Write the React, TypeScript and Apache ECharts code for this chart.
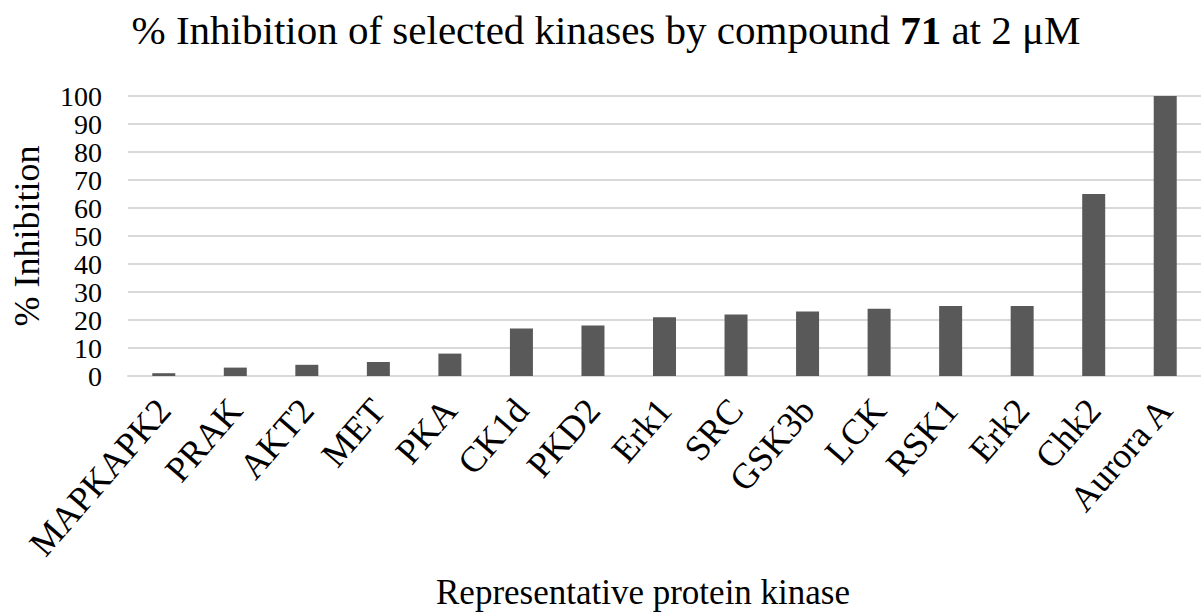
import React, { useEffect, useRef } from "react";
import * as echarts from "echarts";

const kinases = ["MAPKAPK2", "PRAK", "AKT2", "MET", "PKA", "CK1d", "PKD2", "Erk1", "SRC", "GSK3b", "LCK", "RSK1", "Erk2", "Chk2", "Aurora A"];
const inhibition = [1, 3, 4, 5, 8, 17, 18, 21, 22, 23, 24, 25, 25, 65, 100];
const yTicks = { min: 0, max: 100, interval: 10 };
const titleParts = ["% Inhibition of selected kinases by compound", "71", "at 2 μM"];
const xName = "Representative protein kinase";
const yName = "% Inhibition";

const FONT = "Times New Roman";
const TITLE_SIZE = 41;

function measure(text: string, weight: string) {
  const c = document.createElement("canvas").getContext("2d");
  if (!c) return text.length * TITLE_SIZE * 0.45;
  c.font = `${weight} ${TITLE_SIZE}px "${FONT}"`;
  return c.measureText(text).width;
}

export default function App() {
  const ref = useRef<HTMLDivElement>(null);
  useEffect(() => {
    if (!ref.current) return;
    const chart = echarts.init(ref.current, null, { renderer: "svg" });
    const space = measure(" ", "400");
    const w1 = measure(titleParts[0], "400");
    const w2 = measure(titleParts[1], "bold");
    const w3 = measure(titleParts[2], "400");
    const total = w1 + space + w2 + space + w3;
    const x0 = 606 - total / 2;
    const xs = [x0, x0 + w1 + space, x0 + w1 + space + w2 + space];
    const weights = ["400", "bold", "400"];
    chart.setOption({
      animation: false,
      backgroundColor: "#fff",
      textStyle: { fontFamily: FONT },
      title: [
        {
          text: xName,
          left: 431,
          top: 570,
          textStyle: { fontFamily: FONT, fontSize: 35, fontWeight: "400", color: "#000" },
        },
      ],
      graphic: titleParts.map((t, i) => ({
        type: "text",
        x: xs[i],
        y: 9,
        style: {
          text: t,
          fontFamily: FONT,
          fontSize: TITLE_SIZE,
          fontWeight: weights[i],
          fill: "#000",
          verticalAlign: "top",
          align: "left",
        },
      })),
      grid: { left: 128, top: 96, height: 280, width: 1082, containLabel: false },
      xAxis: {
        type: "category",
        data: kinases,
        axisLine: { show: true, lineStyle: { color: "#d9d9d9", width: 2 } },
        axisTick: { show: false },
        axisLabel: {
          rotate: 49,
          interval: 0,
          margin: 28,
          fontFamily: FONT,
          fontSize: 36,
          fontWeight: "400",
          color: "#000",
        },
      },
      yAxis: {
        type: "value",
        min: yTicks.min,
        max: yTicks.max,
        interval: yTicks.interval,
        name: yName,
        nameLocation: "middle",
        nameGap: 83,
        nameTextStyle: { fontFamily: FONT, fontSize: 36, fontWeight: "400", color: "#000" },
        axisLine: { show: false },
        axisTick: { show: false },
        splitLine: { lineStyle: { color: "#d9d9d9", width: 2 } },
        axisLabel: {
          margin: 26,
          fontFamily: FONT,
          fontSize: 28,
          fontWeight: "400",
          lineHeight: 24,
          color: "#000",
          showMinLabel: true,
          showMaxLabel: true,
          hideOverlap: false,
        },
      },
      series: [
        {
          type: "bar",
          data: inhibition,
          barWidth: 23,
          itemStyle: { color: "#595959" },
        },
      ],
    });
    return () => chart.dispose();
  }, []);
  return <div ref={ref} style={{ position: "fixed", left: 0, top: 0, width: 1201, height: 613 }} />;
}
